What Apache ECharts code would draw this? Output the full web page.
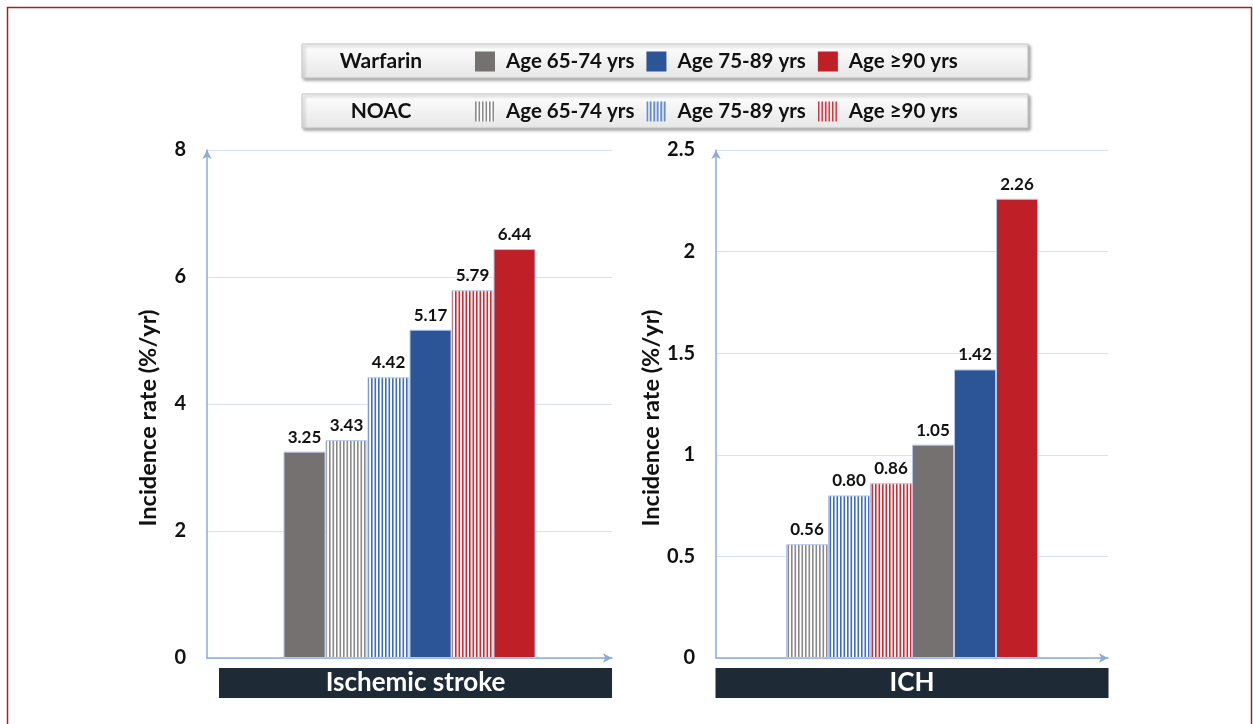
<!DOCTYPE html>
<html><head><meta charset="utf-8">
<script src="https://cdn.jsdelivr.net/npm/echarts@6/dist/echarts.min.js"></script>
<style>html,body{margin:0;padding:0;background:#fff}#c{width:1253px;height:724px}</style>
</head><body><div id="c"></div>
<script>
// ---- data ----
const drugs = ['Warfarin', 'NOAC'];
const ageGroups = ['Age 65-74 yrs', 'Age 75-89 yrs', 'Age \u226590 yrs'];
const panels = ['Ischemic stroke', 'ICH'];
const strokeWarfarin = [3.25, 5.17, 6.44];
const strokeNoac = [3.43, 4.42, 5.79];
const ichWarfarin = [1.05, 1.42, 2.26];
const ichNoac = [0.56, 0.80, 0.86];
// bar order within each panel: [drug index, age index]
const strokeOrder = [[0,0],[1,0],[1,1],[0,1],[1,2],[0,2]];
const ichOrder = [[1,0],[1,1],[1,2],[0,0],[0,1],[0,2]];
const yMax = [8, 2.5];
const yStep = [2, 0.5];

const FONT = 'Lato, "Open Sans", sans-serif';
const solidColors = ['#767171', '#2c5597', '#bf1f27'];
const stripeColors = ['#8a8a8a', '#3d6cc0', '#d22a35'];

function stripes(col) {
  const cv = document.createElement('canvas');
  cv.width = 7; cv.height = 8;
  const g = cv.getContext('2d');
  g.fillStyle = '#ffffff'; g.fillRect(0, 0, 7, 8);
  g.fillStyle = col;
  g.fillRect(0, 0, 1.6, 8);
  g.fillRect(3.5, 0, 1.6, 8);
  return { image: cv, repeat: 'repeat' };
}
function fillFor(d, a) { return d === 0 ? solidColors[a] : stripes(stripeColors[a]); }
function sName(d, a) { return drugs[d] + '|' + ageGroups[a]; }

const panelData = [[strokeWarfarin, strokeNoac], [ichWarfarin, ichNoac]];
const orders = [strokeOrder, ichOrder];

const series = [];
orders.forEach((ord, p) => {
  ord.forEach(([d, a]) => {
    series.push({
      type: 'bar', name: sName(d, a), xAxisIndex: p, yAxisIndex: p,
      data: [panelData[p][d][a]],
      barWidth: 42, barGap: '0%',
      itemStyle: { color: fillFor(d, a), borderColor: '#b4c7e7', borderWidth: 1 },
      label: { show: true, position: 'top', distance: 6, color: '#111', fontFamily: FONT,
               fontWeight: 'bold', fontSize: 17, formatter: v => v.value.toFixed(2) },
      emphasis: { disabled: true }
    });
  });
});

const axisCol = '#8eaadb';
const grids = [
  { left: 207, right: 641, top: 150, bottom: 66 },
  { left: 716, right: 145, top: 150, bottom: 66 }
];
const boxSpacer = [12, 0];
const xAxes = panels.map((name, p) => ({
  type: 'category', gridIndex: p, data: [name],
  axisTick: { show: false },
  axisLine: { lineStyle: { color: axisCol, width: 1.5 }, symbol: ['none', 'arrow'], symbolSize: [7, 9] },
  axisLabel: { margin: 10, formatter: v => '{s|}{a|' + v + '}',
    rich: {
      s: { width: boxSpacer[p], height: 30 },
      a: { color: '#fff', backgroundColor: '#1f2a37', fontFamily: FONT, fontWeight: 'bold', fontSize: 26,
           width: 393, height: 30, lineHeight: 30, align: 'center' }
    } }
}));
const yAxes = yMax.map((mx, p) => ({
  type: 'value', gridIndex: p, min: 0, max: mx, interval: yStep[p],
  name: 'Incidence rate (%/yr)', nameLocation: 'middle', nameGap: 47,
  nameTextStyle: { color: '#111', fontFamily: FONT, fontWeight: 'bold', fontSize: 23.5, padding: [0, 28, 0, 0] },
  axisLine: { show: true, lineStyle: { color: axisCol, width: 1.5 }, symbol: ['none', 'arrow'], symbolSize: [7, 9] },
  axisTick: { show: false },
  splitLine: { lineStyle: { color: '#d9e2f3', width: 1 } },
  axisLabel: { margin: 21, color: '#111', fontFamily: FONT, fontWeight: 'bold', fontSize: 20 }
}));

const legends = drugs.map((dr, d) => ({
  orient: 'horizontal', left: 475, top: d === 0 ? 51 : 101, padding: 0,
  itemWidth: 20, itemHeight: 20, itemGap: 12, selectedMode: false, icon: 'rect',
  data: ageGroups.map((_, a) => sName(d, a)),
  formatter: n => n.split('|')[1],
  itemStyle: { borderWidth: 0 },
  textStyle: { color: '#111', fontFamily: FONT, fontWeight: 'bold', fontSize: 20.5, padding: [0, 0, 0, 6] }
}));

function legendBox(y, label) {
  return [
    { type: 'rect', shape: { x: 302, y: y, width: 726, height: 34 },
      style: { fill: { type: 'linear', x: 0, y: 0, x2: 0, y2: 1, colorStops: [{ offset: 0, color: '#ffffff' }, { offset: 1, color: '#e6e6e6' }] },
               stroke: '#c4c4c4', lineWidth: 1, shadowBlur: 3, shadowOffsetX: 2, shadowOffsetY: 2, shadowColor: 'rgba(0,0,0,0.35)' }, z: -1 },
    { type: 'text', x: 381, y: y + 17, style: { text: label, fill: '#111', font: 'bold 21px ' + FONT, align: 'center', verticalAlign: 'middle' } }
  ];
}

const option = {
  backgroundColor: '#fff',
  animation: false,
  grid: grids, xAxis: xAxes, yAxis: yAxes, legend: legends, series: series,
  graphic: [
    { type: 'rect', shape: { x: 7.5, y: 7.5, width: 1244, height: 730 }, style: { fill: 'none', stroke: '#a3202a', lineWidth: 1.5 } },
    ...legendBox(44, drugs[0]), ...legendBox(94, drugs[1])
  ]
};
const chart = echarts.init(document.getElementById('c'), null, { renderer: 'canvas' });
chart.setOption(option);
</script></body></html>
